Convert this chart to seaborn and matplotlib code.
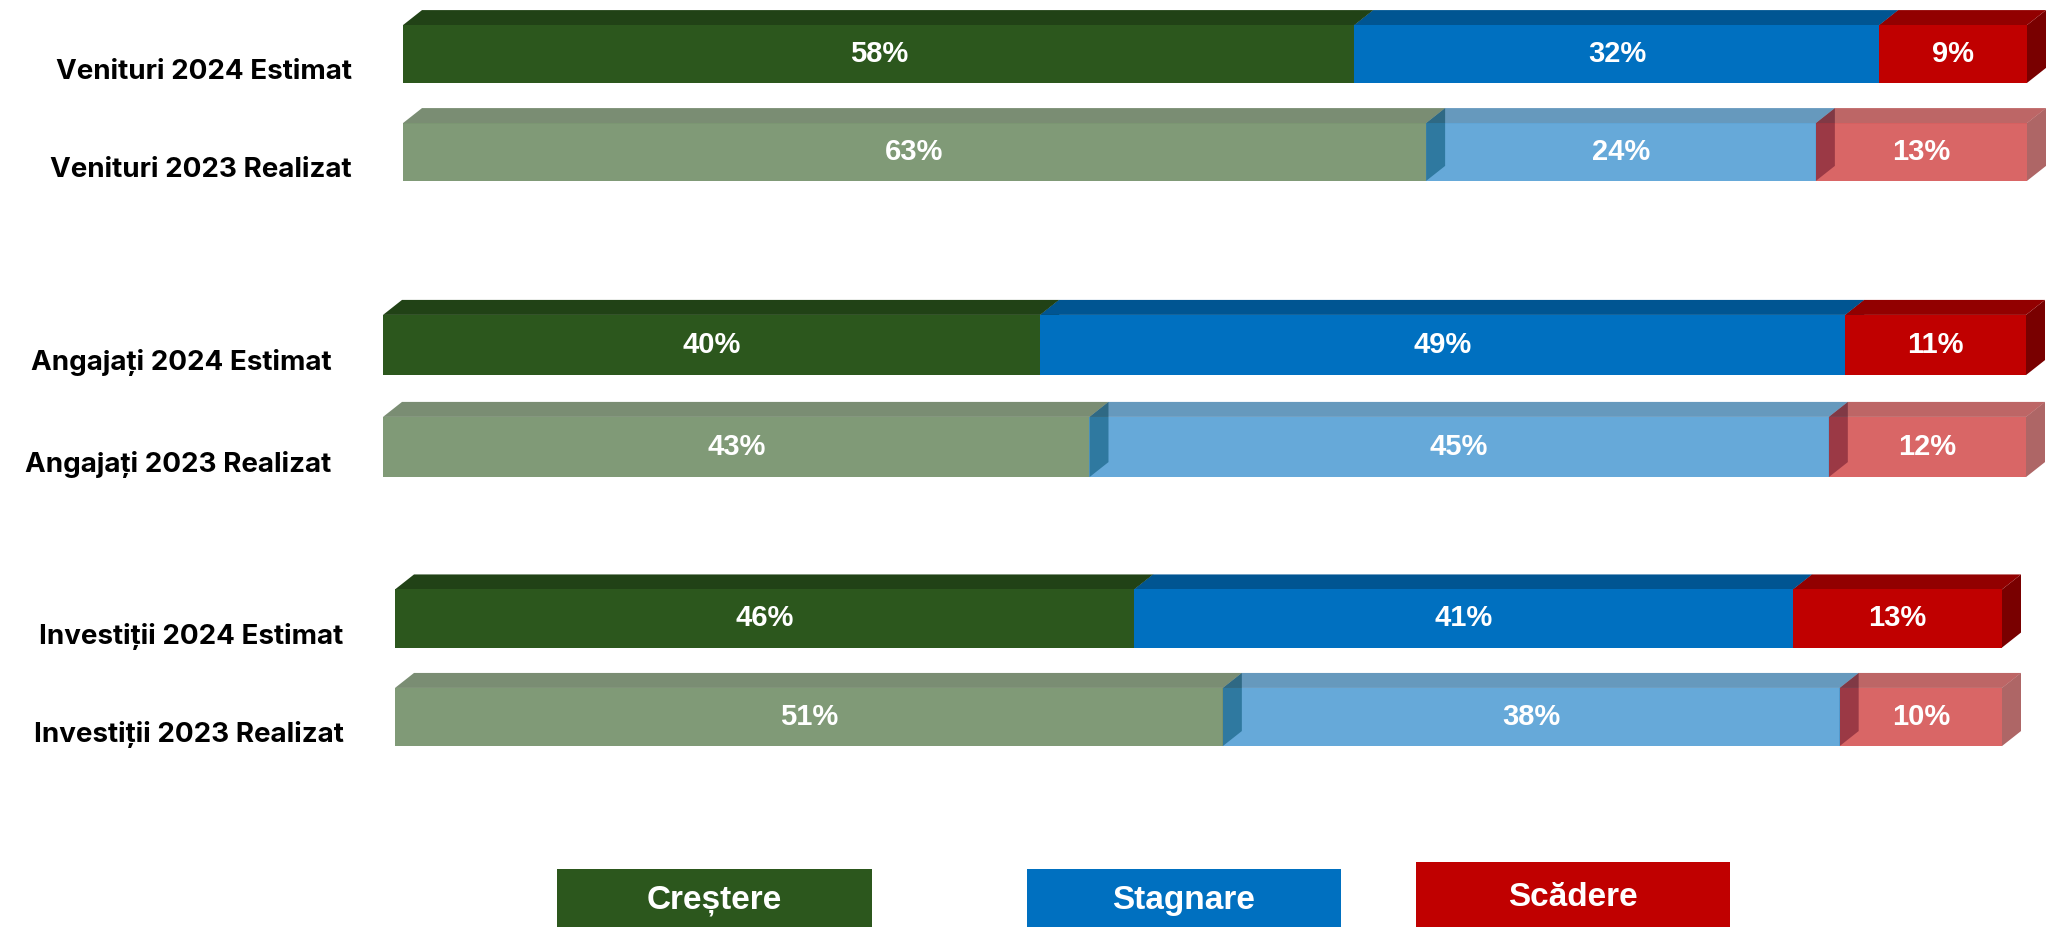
"""
Romanian business survey: expected vs realised evolution of revenue,
employees and investments (share of firms reporting growth / stagnation /
decline). Three 100% stacked horizontal bar blocks with a fake 3D look,
2024 estimates solid, 2023 realised values washed out.
"""

import numpy as np
import pandas as pd
import matplotlib
matplotlib.use("Agg")
import matplotlib.pyplot as plt
from matplotlib.patches import Polygon, Rectangle
from matplotlib import font_manager
import seaborn as sns


# ── data (percent of respondents) ────────────────────────────
venituri_labels = ["Venituri 2024 Estimat", "Venituri 2023 Realizat"]
venituri_crestere = [58, 63]
venituri_stagnare = [32, 24]
venituri_scadere = [9, 13]

angajati_labels = ["Angajați 2024 Estimat", "Angajați 2023 Realizat"]
angajati_crestere = [40, 43]
angajati_stagnare = [49, 45]
angajati_scadere = [11, 12]

investitii_labels = ["Investiții 2024 Estimat", "Investiții 2023 Realizat"]
investitii_crestere = [46, 51]
investitii_stagnare = [41, 38]
investitii_scadere = [13, 10]

series_names = ["Creștere", "Stagnare", "Scădere"]
series_colors = ["#2C571D", "#0070C0", "#C00000"]

# ── styling ──────────────────────────────────────────────────
W_PX, H_PX, DPI = 2046, 927, 100
BAR_H = 0.59          # bar thickness, in category units
DEPTH_X, DEPTH_Y = 19, 15   # 3D extrusion, pixels
FADED_ALPHA = 0.6     # 2023 bars
LABEL_DROP = 15       # tick labels sit a bit below the bar centre, pixels


def has_font(name):
    try:
        font_manager.findfont(font_manager.FontProperties(family=name),
                              fallback_to_default=False)
        return True
    except Exception:
        return False


label_font = ["Inter", "DejaVu Sans"] if has_font("Inter") else ["Open Sans", "DejaVu Sans"]
value_font = ["Liberation Sans", "DejaVu Sans"]
narrow_ok = has_font("Liberation Sans Narrow")
legend_font = ["Liberation Sans Narrow", "DejaVu Sans"] if narrow_ok else value_font


def shade(color, factor):
    r, g, b = matplotlib.colors.to_rgb(color)
    return (r * factor, g * factor, b * factor)


def draw_block(ax, labels, crestere, stagnare, scadere, px_width, px_pitch):
    df = pd.DataFrame({"label": labels,
                       "Creștere": crestere,
                       "Stagnare": stagnare,
                       "Scădere": scadere})
    # excel-style 100% stacking: every row is normalised to its own total
    shares = df[series_names].div(df[series_names].sum(axis=1), axis=0)

    dx = DEPTH_X / px_width
    dy = DEPTH_Y / px_pitch

    left = np.zeros(len(df))
    for k, (name, color) in enumerate(zip(series_names, series_colors)):
        width = shares[name].to_numpy()
        n_before = len(ax.patches)
        sns.barplot(x=width, y=df["label"], orient="h", left=left,
                    color=color, saturation=1, width=BAR_H,
                    linewidth=0, ax=ax)
        bars = list(ax.patches)[n_before:]

        for i, bar in enumerate(bars):
            alpha = 1.0 if i == 0 else FADED_ALPHA
            x0, w = bar.get_x(), bar.get_width()
            y0, h = bar.get_y(), bar.get_height()   # y0 = visual top (inverted axis)
            x1 = x0 + w

            side = Polygon([(x1, y0), (x1 + dx, y0 - dy), (x1 + dx, y0 + h - dy), (x1, y0 + h)],
                           closed=True, facecolor=shade(color, 0.63), alpha=alpha,
                           linewidth=0, zorder=2 * k + 1.0, clip_on=False)
            top = Polygon([(x0, y0), (x1, y0), (x1 + dx, y0 - dy), (x0 + dx, y0 - dy)],
                          closed=True, facecolor=shade(color, 0.76), alpha=alpha,
                          linewidth=0, zorder=2 * k + 1.1, clip_on=False)
            ax.add_patch(side)
            ax.add_patch(top)
            bar.set_alpha(alpha)
            bar.set_zorder(2 * k + 1.2)
            bar.set_clip_on(False)

            ax.text(x0 + w / 2, y0 + h / 2, f"{df[name].iloc[i]}%",
                    ha="center", va="center", color="white", fontsize=21,
                    fontweight="bold", family=value_font, zorder=30)
        left = left + width

    ax.set_xlim(0, 1)
    ax.set_ylim(1.5, -0.5)
    ax.set_yticks(np.arange(len(df)) + LABEL_DROP / px_pitch, labels,
                  fontsize=20, fontweight="bold", family=label_font)
    ax.set_xticks([])
    ax.set_xlabel("")
    ax.set_ylabel("")
    ax.tick_params(axis="y", length=0, pad=37, labelcolor="black")
    ax.set_facecolor("none")
    sns.despine(ax=ax, left=True, bottom=True)


sns.set_style("white")
fig = plt.figure(figsize=(W_PX / DPI, H_PX / DPI), dpi=DPI)

# (left px, right px, centre of first bar px, row pitch px) for each block
blocks = [
    (venituri_labels, venituri_crestere, venituri_stagnare, venituri_scadere, (403, 2027, 54, 98)),
    (angajati_labels, angajati_crestere, angajati_stagnare, angajati_scadere, (383, 2026, 345, 102)),
    (investitii_labels, investitii_crestere, investitii_stagnare, investitii_scadere, (395, 2002, 618.5, 98.5)),
]

for labels, cre, stg, scd, (lpx, rpx, c0, pitch) in blocks:
    top_px = c0 - 0.5 * pitch
    bottom_px = c0 + 1.5 * pitch
    ax = fig.add_axes([lpx / W_PX, 1 - bottom_px / H_PX,
                       (rpx - lpx) / W_PX, (bottom_px - top_px) / H_PX])
    draw_block(ax, labels, cre, stg, scd, rpx - lpx, pitch)

# legend: three solid boxes along the bottom edge
lax = fig.add_axes([0, 0, 1, 1], zorder=-1)
lax.set_xlim(0, W_PX)
lax.set_ylim(H_PX, 0)
lax.axis("off")
legend_boxes = [(557, 869, 872), (1027, 869, 1341), (1416, 862, 1730)]
for name, color, (bx0, by0, bx1) in zip(series_names, series_colors, legend_boxes):
    lax.add_patch(Rectangle((bx0, by0), bx1 - bx0, H_PX - by0, facecolor=color, linewidth=0))
    lax.text((bx0 + bx1) / 2, (by0 + H_PX) / 2 + 3, name, ha="center", va="center",
             color="white", fontsize=24, fontweight="bold", family=legend_font)

fig.savefig("out.png", dpi=DPI)
plt.close(fig)
